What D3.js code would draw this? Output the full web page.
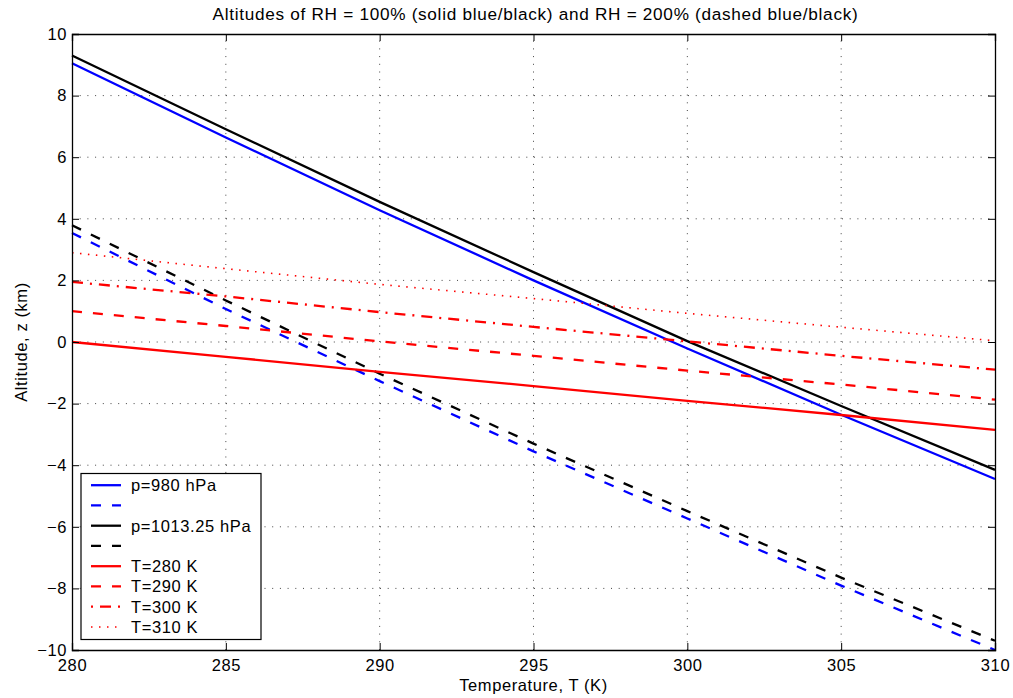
<!DOCTYPE html>
<html>
<head>
<meta charset="utf-8">
<script src="https://cdn.jsdelivr.net/npm/d3@7"></script>
<style>
  body { margin: 0; background: #fff; }
  svg { font-family: "Liberation Sans", Arial, sans-serif; }
</style>
</head>
<body>
<svg id="chart" width="1013" height="698"></svg>
<script>
// Temperature samples (K)
const temps = [280, 285, 290, 295, 300, 305, 310];

// Altitude (km) where RH reaches 100% / 200%, for two surface pressures
const p980Rh100 = [9.05, 6.64, 4.28, 2.0, -0.21, -2.36, -4.45];
const p980Rh200 = [3.54, 1.07, -1.27, -3.55, -5.73, -7.91, -10.0];
const p1013Rh100 = [9.3, 6.91, 4.55, 2.27, 0.03, -2.08, -4.15];
const p1013Rh200 = [3.79, 1.35, -1.03, -3.3, -5.49, -7.65, -9.7];

// Reference temperature lines
const t280 = [0.0, -0.48, -0.97, -1.43, -1.91, -2.37, -2.85];
const t290 = [1.0, 0.52, 0.02, -0.45, -0.93, -1.38, -1.87];
const t300 = [1.95, 1.48, 0.97, 0.49, 0.02, -0.45, -0.9];
const t310 = [2.9, 2.38, 1.87, 1.41, 0.93, 0.48, 0.04];

const xTicks = [280, 285, 290, 295, 300, 305, 310];
const yTicks = [-10, -8, -6, -4, -2, 0, 2, 4, 6, 8, 10];

const legendLabels = ["p=980 hPa", "", "p=1013.25 hPa", "", "T=280 K", "T=290 K", "T=300 K", "T=310 K"];

const margin = { left: 72, right: 18, top: 34, bottom: 48 };
const W = 1013, H = 698;
const svg = d3.select("#chart");

const x = d3.scaleLinear().domain([280, 310]).range([margin.left, W - margin.right]);
const y = d3.scaleLinear().domain([-10, 10]).range([H - margin.bottom, margin.top]);

const series = [
  { v: p980Rh100, color: "#0000ff", dash: null },
  { v: p980Rh200, color: "#0000ff", dash: "10,11" },
  { v: p1013Rh100, color: "#000000", dash: null },
  { v: p1013Rh200, color: "#000000", dash: "10,11" },
  { v: t280, color: "#ff0000", dash: null },
  { v: t290, color: "#ff0000", dash: "10,11" },
  { v: t300, color: "#ff0000", dash: "11,7,2,7", legendOffset: 18 },
  { v: t310, color: "#ff0000", dash: "1.5,6.5", width: 1.6 }
];

// Dotted grid
const grid = svg.append("g");
grid.selectAll("line.gx").data(xTicks.slice(1, -1)).join("line")
  .attr("x1", d => x(d)).attr("x2", d => x(d))
  .attr("y1", y(-10)).attr("y2", y(10))
  .attr("stroke", "#444").attr("stroke-width", 1).attr("stroke-dasharray", "1,6.7");
grid.selectAll("line.gy").data(yTicks.slice(1, -1)).join("line")
  .attr("x1", x(280)).attr("x2", x(310))
  .attr("y1", d => y(d)).attr("y2", d => y(d))
  .attr("stroke", "#444").attr("stroke-width", 1).attr("stroke-dasharray", "1,6.7");

// Lines
const line = d3.line().x((d, i) => x(temps[i])).y(d => y(d));
const plot = svg.append("g");
series.forEach(s => {
  plot.append("path").datum(s.v)
    .attr("d", line)
    .attr("fill", "none")
    .attr("stroke", s.color)
    .attr("stroke-width", s.width || 2.3)
    .attr("stroke-dasharray", s.dash);
});

// Axes with inward ticks on all sides
const tickLen = 7;
const fmt = d3.format("d");
const axB = svg.append("g").attr("transform", `translate(0,${y(-10)})`)
  .call(d3.axisBottom(x).tickValues(xTicks).tickSize(-tickLen).tickPadding(9).tickFormat(fmt));
const axT = svg.append("g").attr("transform", `translate(0,${y(10)})`)
  .call(d3.axisTop(x).tickValues(xTicks).tickSize(-tickLen).tickFormat(""));
const axL = svg.append("g").attr("transform", `translate(${x(280)},0)`)
  .call(d3.axisLeft(y).tickValues(yTicks).tickSize(-tickLen).tickPadding(5).tickFormat(fmt));
const axR = svg.append("g").attr("transform", `translate(${x(310)},0)`)
  .call(d3.axisRight(y).tickValues(yTicks).tickSize(-tickLen).tickFormat(""));
[axB, axT, axL, axR].forEach(a => {
  a.select(".domain").attr("stroke", "#000").attr("stroke-width", 1.3);
  a.selectAll(".tick line").attr("stroke", "#000");
  a.selectAll(".tick text").attr("font-size", 16.5).attr("fill", "#000")
    .attr("letter-spacing", "0.6px")
    .attr("font-family", "Liberation Sans, Arial, sans-serif");
});

// Title and axis labels
svg.append("text").attr("x", (x(280) + x(310)) / 2 + 2).attr("y", 20)
  .attr("text-anchor", "middle").attr("font-size", 17.2).attr("letter-spacing", "0.7px")
  .text("Altitudes of RH = 100% (solid blue/black) and RH = 200% (dashed blue/black)");
svg.append("text").attr("x", (x(280) + x(310)) / 2).attr("y", 691)
  .attr("text-anchor", "middle").attr("font-size", 16.5).attr("letter-spacing", "0.6px")
  .text("Temperature, T (K)");
svg.append("text").attr("transform", `translate(27,${(y(-10) + y(10)) / 2}) rotate(-90)`)
  .attr("text-anchor", "middle").attr("font-size", 16.5).attr("letter-spacing", "0.6px")
  .text("Altitude, z (km)");

// Legend
const lg = svg.append("g").attr("transform", "translate(81,473.5)");
lg.append("rect").attr("width", 180).attr("height", 166)
  .attr("fill", "#fff").attr("stroke", "#000").attr("stroke-width", 1.2);
const rowH = 20.25;
series.forEach((s, i) => {
  const cy = 11.7 + i * rowH;
  lg.append("line").attr("x1", 10).attr("x2", 40).attr("y1", cy).attr("y2", cy)
    .attr("stroke", s.color).attr("stroke-width", s.width || 2.3)
    .attr("stroke-dasharray", s.dash)
    .attr("stroke-dashoffset", s.legendOffset || 0);
  lg.append("text").attr("x", 50).attr("y", cy + 5.8).attr("font-size", 16.5)
    .attr("letter-spacing", "0.6px")
    .text(legendLabels[i]);
});
</script>
</body>
</html>
